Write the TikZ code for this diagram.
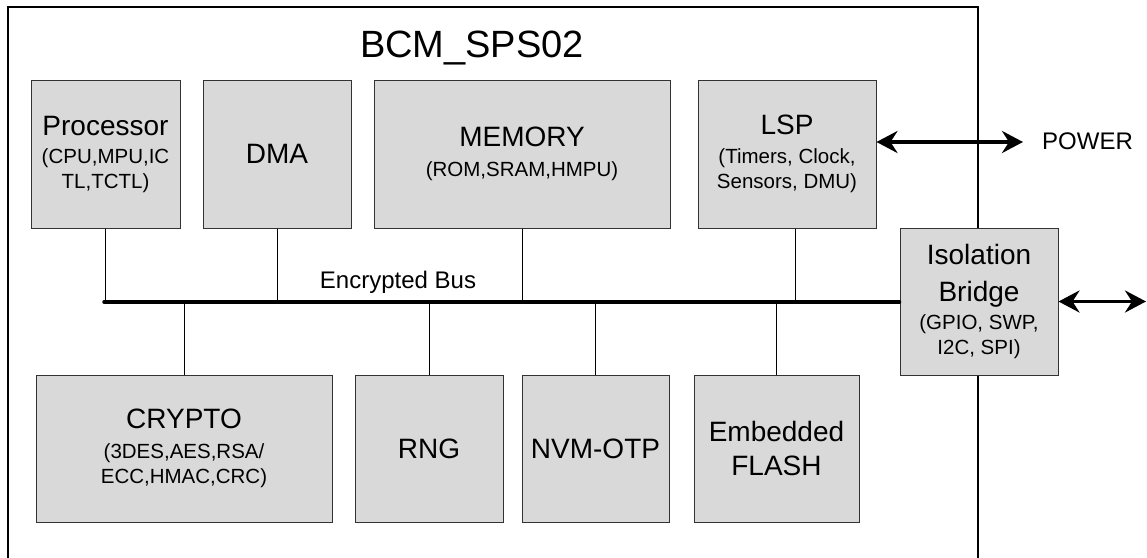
\documentclass[tikz,border=0pt]{standalone}
\usepackage{fontspec}
\setmainfont{Liberation Sans}
\usetikzlibrary{arrows.meta}
\definecolor{boxfill}{RGB}{217,217,217}
\newcommand\bigtxt[1]{{\fontsize{28}{34}\selectfont #1}}
\begin{document}
\begin{tikzpicture}[x=1pt,y=-1pt,
  blk/.style={draw=black!80, line width=1pt, fill=boxfill, align=center, inner sep=0pt,
              font=\fontsize{20.5}{25}\selectfont},
  conn/.style={line width=1pt},
  busline/.style={line width=3.5pt, line cap=round},
  dbl/.style={line width=3.5pt, {Stealth[length=21pt,width=22pt,inset=7pt]}-{Stealth[length=21pt,width=22pt,inset=7pt]}},
]
\useasboundingbox (0,0) rectangle (1147,557);
% outer frame
\draw[line width=2pt] (8,560) -- (8,7) -- (978,7) -- (978,560);
\node[anchor=base, font=\fontsize{38}{42}\selectfont] (title) at (472,57) {BCM\_SPS02};

% top row
\node[blk, minimum width=149pt, minimum height=148pt] (proc) at (105.5,154)
  {\bigtxt{Processor}\\[3pt](CPU,MPU,IC\\TL,TCTL)};
\node[blk, minimum width=148pt, minimum height=148pt] (dma) at (277,154) {\bigtxt{DMA}};
\node[blk, minimum width=296pt, minimum height=148pt] (mem) at (522,154)
  {\bigtxt{MEMORY}\\[5pt](ROM,SRAM,HMPU)};
\node[blk, minimum width=178pt, minimum height=148pt] (lsp) at (787,154)
  {\bigtxt{LSP}\\[4pt](Timers, Clock,\\Sensors, DMU)};

% isolation bridge
\node[blk, minimum width=158pt, minimum height=147pt] (iso) at (979,301.5)
  {\bigtxt{Isolation}\\[12pt]\bigtxt{Bridge}\\[3pt](GPIO, SWP,\\I2C, SPI)};

% bottom row
\node[blk, minimum width=296pt, minimum height=147pt] (crypto) at (184,448.5)
  {\bigtxt{CRYPTO}\\[5pt](3DES,AES,RSA/\\ECC,HMAC,CRC)};
\node[blk, minimum width=148pt, minimum height=147pt] (rng) at (429,448.5) {\bigtxt{RNG}};
\node[blk, minimum width=147pt, minimum height=147pt] (nvm) at (595.5,448.5) {\bigtxt{NVM-OTP}};
\node[blk, minimum width=165pt, minimum height=147pt] (flash) at (776.5,448.5)
  {\bigtxt{Embedded}\\[9pt]\bigtxt{FLASH}};

% bus
\coordinate (busL) at (104,302);
\draw[busline] (busL) -- (busL -| iso.west);
\node[anchor=base, font=\fontsize{24}{28}\selectfont] (buslbl) at (398,288) {Encrypted Bus};

% connectors
\draw[conn] (proc.south) -- (proc.south |- busL);
\draw[conn] (dma.south) -- (dma.south |- busL);
\draw[conn] (mem.south) -- (mem.south |- busL);
\draw[conn] ([xshift=8pt]lsp.south) -- ([xshift=8pt]lsp.south |- busL);
\draw[conn] (crypto.north) -- (crypto.north |- busL);
\draw[conn] (rng.north) -- (rng.north |- busL);
\draw[conn] (nvm.north) -- (nvm.north |- busL);
\draw[conn] (flash.north) -- (flash.north |- busL);

% power
\node[anchor=base west, inner sep=0pt, font=\fontsize{24}{28}\selectfont] (pow) at (1042,149) {POWER};
\draw[dbl, shorten >=19pt] ([yshift=12pt]lsp.east) -- ([yshift=12pt]lsp.east -| pow.west);

% external interface
\coordinate (ext) at (1146,301.5);
\draw[dbl] (iso.east) -- (ext);
\end{tikzpicture}
\end{document}
